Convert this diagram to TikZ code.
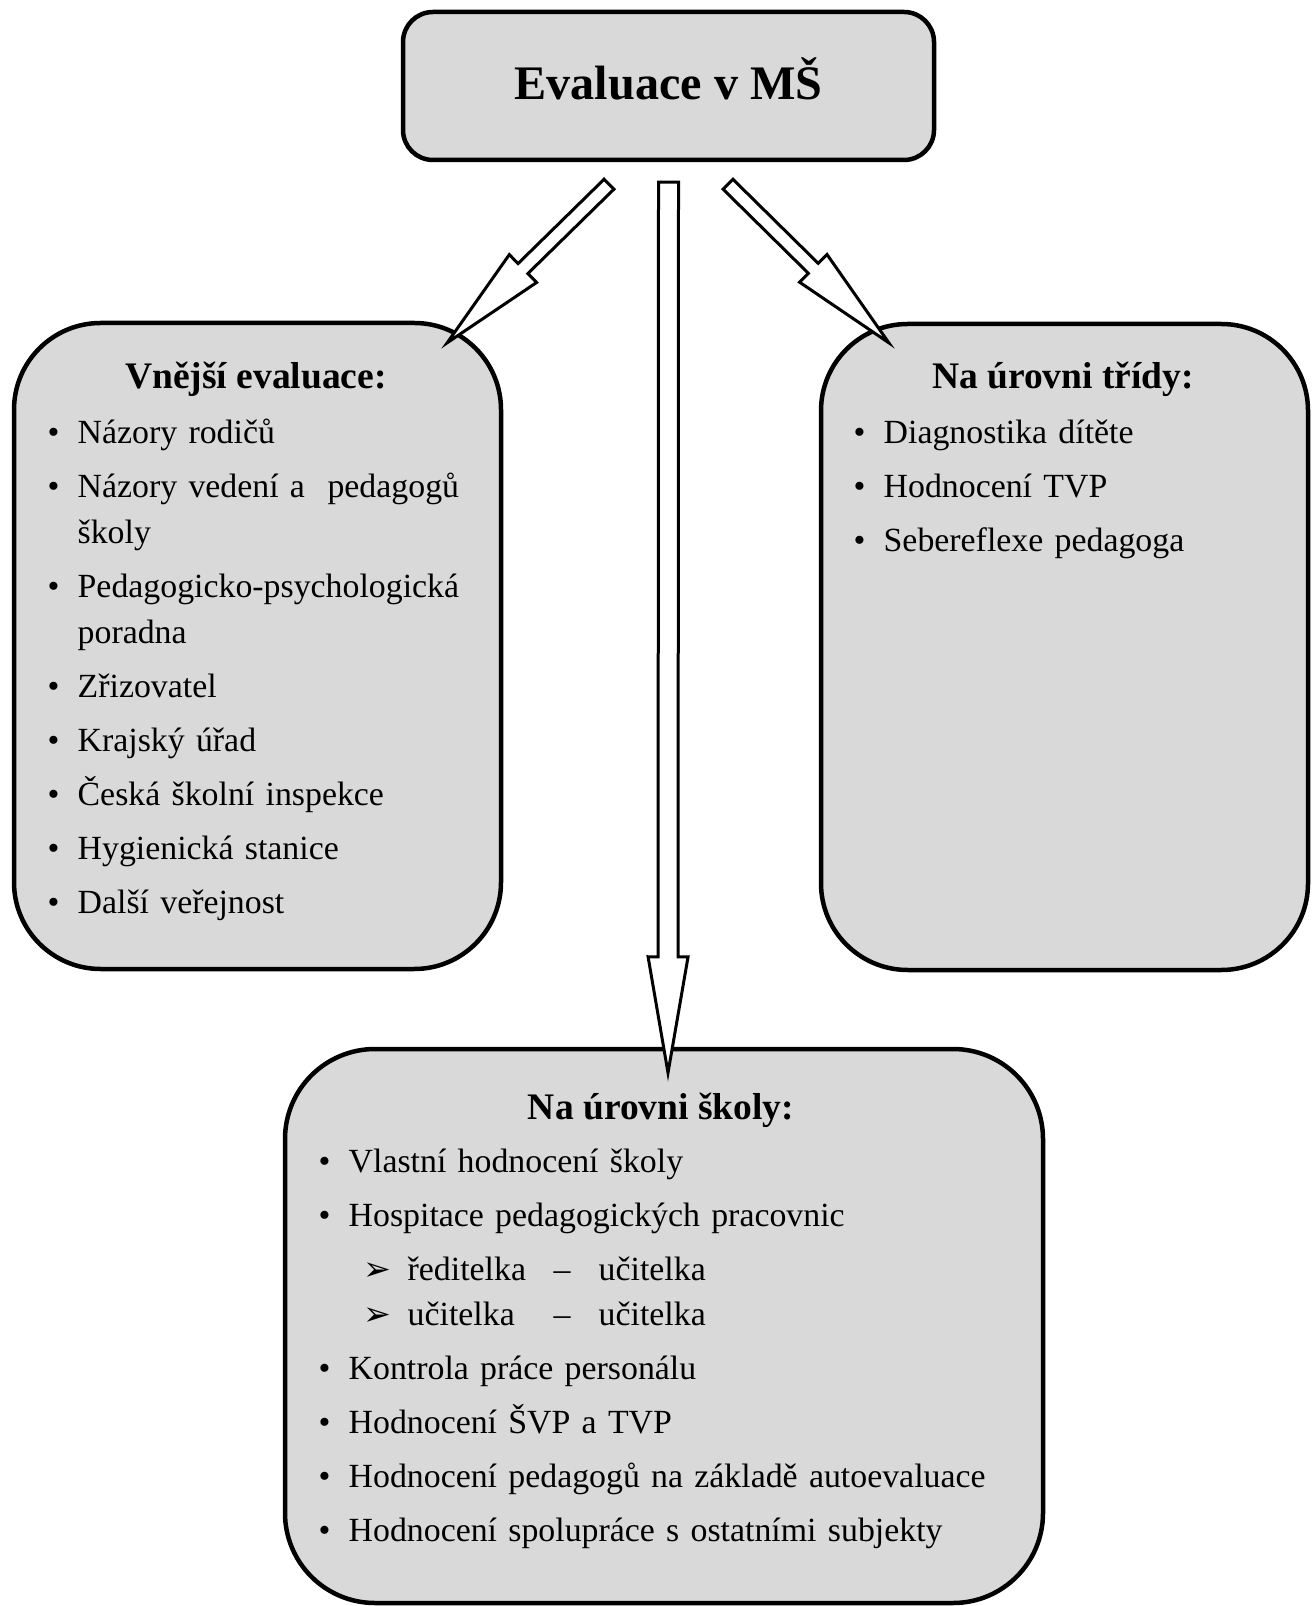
\documentclass[tikz,border=0pt]{standalone}
\usepackage{fontspec}
\setmainfont{Liberation Serif}
\newfontfamily\dingfont{DejaVu Sans}
\usetikzlibrary{calc}

\definecolor{boxgray}{RGB}{217,217,217}

\newenvironment{bodylist}{\begin{list}{\textbullet}{%
  \setlength{\leftmargin}{9pt}\setlength{\labelwidth}{9pt}%
  \setlength{\labelsep}{0pt}\setlength{\itemsep}{2.4pt}%
  \setlength{\parsep}{0pt}\setlength{\topsep}{0pt}\setlength{\partopsep}{0pt}%
  \renewcommand{\makelabel}[1]{##1\hfil}}}{\end{list}}

\newcommand{\hosp}[2]{\hspace*{4.5pt}\makebox[13.2pt][l]{\smash{\dingfont\fontsize{10}{10}\selectfont ➢}}%
  \makebox[43.8pt][l]{#1}\makebox[13.5pt][l]{–}#2}

% tail, tip, shaft half width, head half width, head length
\newcommand{\blockarrow}[5]{%
  \coordinate (hb) at ($(#2)!#5!(#1)$);
  \draw[fat] ($(#1)!#3!90:(#2)$) -- ($(hb)!#3!90:(#2)$) -- ($(hb)!#4!90:(#2)$) -- (#2)
    -- ($(hb)!#4!-90:(#2)$) -- ($(hb)!#3!-90:(#2)$) -- ($(#1)!#3!-90:(#2)$) -- cycle;}

\begin{document}
\begin{tikzpicture}[x=0.3pt, y=-0.3pt,
  box/.style={draw, line width=1.35pt, fill=boxgray},
  bigbox/.style={box, rounded corners=26pt, minimum width=146.1pt, minimum height=193.8pt},
  head/.style={font=\fontsize{11.25}{13}\selectfont\bfseries, anchor=base, inner sep=0pt},
  items/.style={font=\fontsize{10.15}{13.8}\selectfont, anchor=base west, inner sep=0pt, text width=150pt, align=left},
  fat/.style={draw, line width=0.9pt, fill=white}]
\useasboundingbox (0,0) rectangle (1312,1606);

\node[box, rounded corners=9pt, minimum width=159.3pt, minimum height=44.4pt, font=\fontsize{14.45}{17}\selectfont\bfseries, text height=10pt, text depth=1.6pt] (ms) at (668.5,86) {Evaluace v MŠ};
\node[bigbox] (vnejsi) at (257.5,646) {};
\node[bigbox] (trida) at (1064.5,647) {};
\node[box, rounded corners=27pt, minimum width=227.4pt, minimum height=166.2pt] (skola) at (664,1326) {};

\node[head] (vnejsihead) at (256,389) {Vnější evaluace:};
\node[items] (vnejsilist) at (47,398) {\begin{bodylist}
  \item Názory rodičů
  \item Názory vedení a\ \ pedagogů\\ školy
  \item Pedagogicko-psychologická\\ poradna
  \item Zřizovatel
  \item Krajský úřad
  \item Česká školní inspekce
  \item Hygienická stanice
  \item Další veřejnost
\end{bodylist}};

\node[head] (tridahead) at (1063,389) {Na úrovni třídy:};
\node[items] (tridalist) at (853,398) {\begin{bodylist}
  \item Diagnostika dítěte
  \item Hodnocení TVP
  \item Sebereflexe pedagoga
\end{bodylist}};

\node[head] (skolahead) at (661,1119) {Na úrovni školy:};
\node[items, text width=220pt] (skolalist) at (318,1126) {\begin{bodylist}
  \item Vlastní hodnocení školy
  \item Hospitace pedagogických pracovnic
  \item[] \hosp{ředitelka}{učitelka}\\[-0.3pt]
    \hosp{učitelka}{učitelka}
  \item Kontrola práce personálu
  \item Hodnocení ŠVP a TVP
  \item Hodnocení pedagogů na základě autoevaluace
  \item Hodnocení spolupráce s ostatními subjekty
\end{bodylist}};

\coordinate (ltail) at ($(ms.south)+(-59.5,22)$);
\coordinate (ctail) at ($(ms.south)+(0,20)$);
\coordinate (rtail) at ($(ms.south)+(59.5,22)$);
\coordinate (ltip) at ($(vnejsi.north east)+(-56,22)$);
\coordinate (ctip) at ($(skola.north)+(4,26)$);
\coordinate (rtip) at ($(trida.north west)+(70,21)$);

\blockarrow{ltail}{ltip}{2.1pt}{5.85pt}{31.8pt}
\blockarrow{ctail}{ctip}{3pt}{6pt}{34.8pt}
\blockarrow{rtail}{rtip}{2.1pt}{5.85pt}{31.8pt}
\end{tikzpicture}
\end{document}
